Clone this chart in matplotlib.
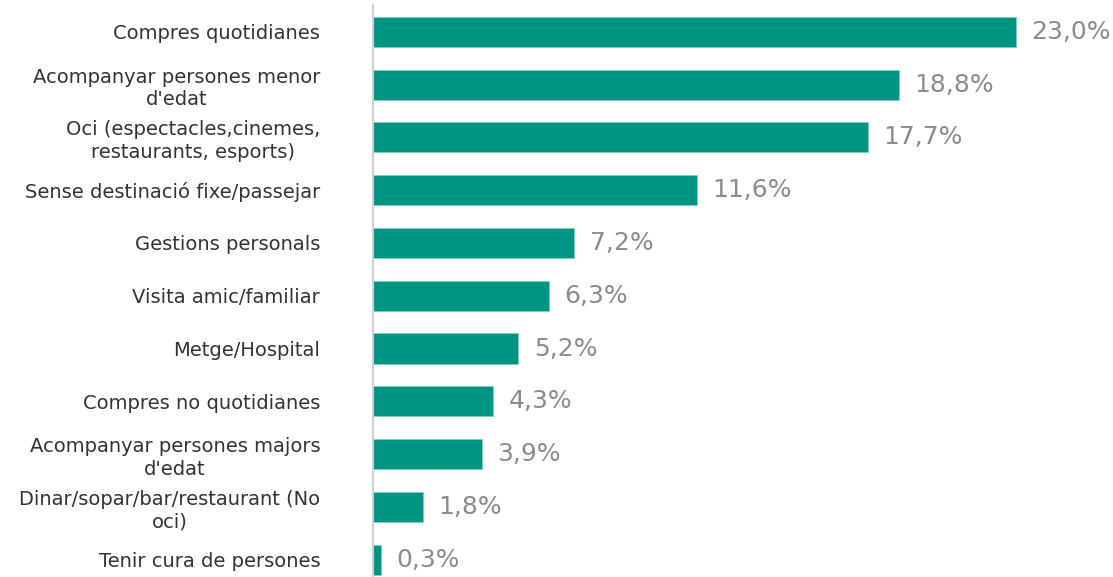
import matplotlib.pyplot as plt

motius = [
    "Compres quotidianes",
    "Acompanyar persones menor\nd'edat",
    "Oci (espectacles,cinemes,\nrestaurants, esports)",
    "Sense destinació fixe/passejar",
    "Gestions personals",
    "Visita amic/familiar",
    "Metge/Hospital",
    "Compres no quotidianes",
    "Acompanyar persones majors\nd'edat",
    "Dinar/sopar/bar/restaurant (No\noci)",
    "Tenir cura de persones",
]
percentatges = [23.0, 18.8, 17.7, 11.6, 7.2, 6.3, 5.2, 4.3, 3.9, 1.8, 0.3]

verd = "#009483"

fig = plt.figure(figsize=(11.13, 5.77), dpi=100)
ax = fig.add_axes([373 / 1113, 0, 740 / 1113, 572 / 577])

y = list(range(len(motius)))
ax.barh(y, percentatges, height=0.57, color=verd, edgecolor="#7fcfc4", linewidth=0.6)

for yi, v in zip(y, percentatges):
    ax.annotate(f"{v:.1f}%".replace(".", ","), (v, yi), xytext=(11, 0),
                textcoords="offset points", ha="left", va="center",
                fontsize=18, color="#8c8c8c")

ax.set_yticks(y)
ax.set_yticklabels(motius, fontsize=14, color="#333333",
                   multialignment="center", linespacing=1.25)
ax.tick_params(axis="y", length=0, pad=38)
ax.set_xticks([])

ax.set_xlim(0, 740 / 27.96)
ax.set_ylim(10.33, -0.51)

for s in ["top", "right", "bottom"]:
    ax.spines[s].set_visible(False)
ax.spines["left"].set_color("#d0d0d0")
ax.spines["left"].set_linewidth(1.5)

fig.savefig("out.png", dpi=100)
